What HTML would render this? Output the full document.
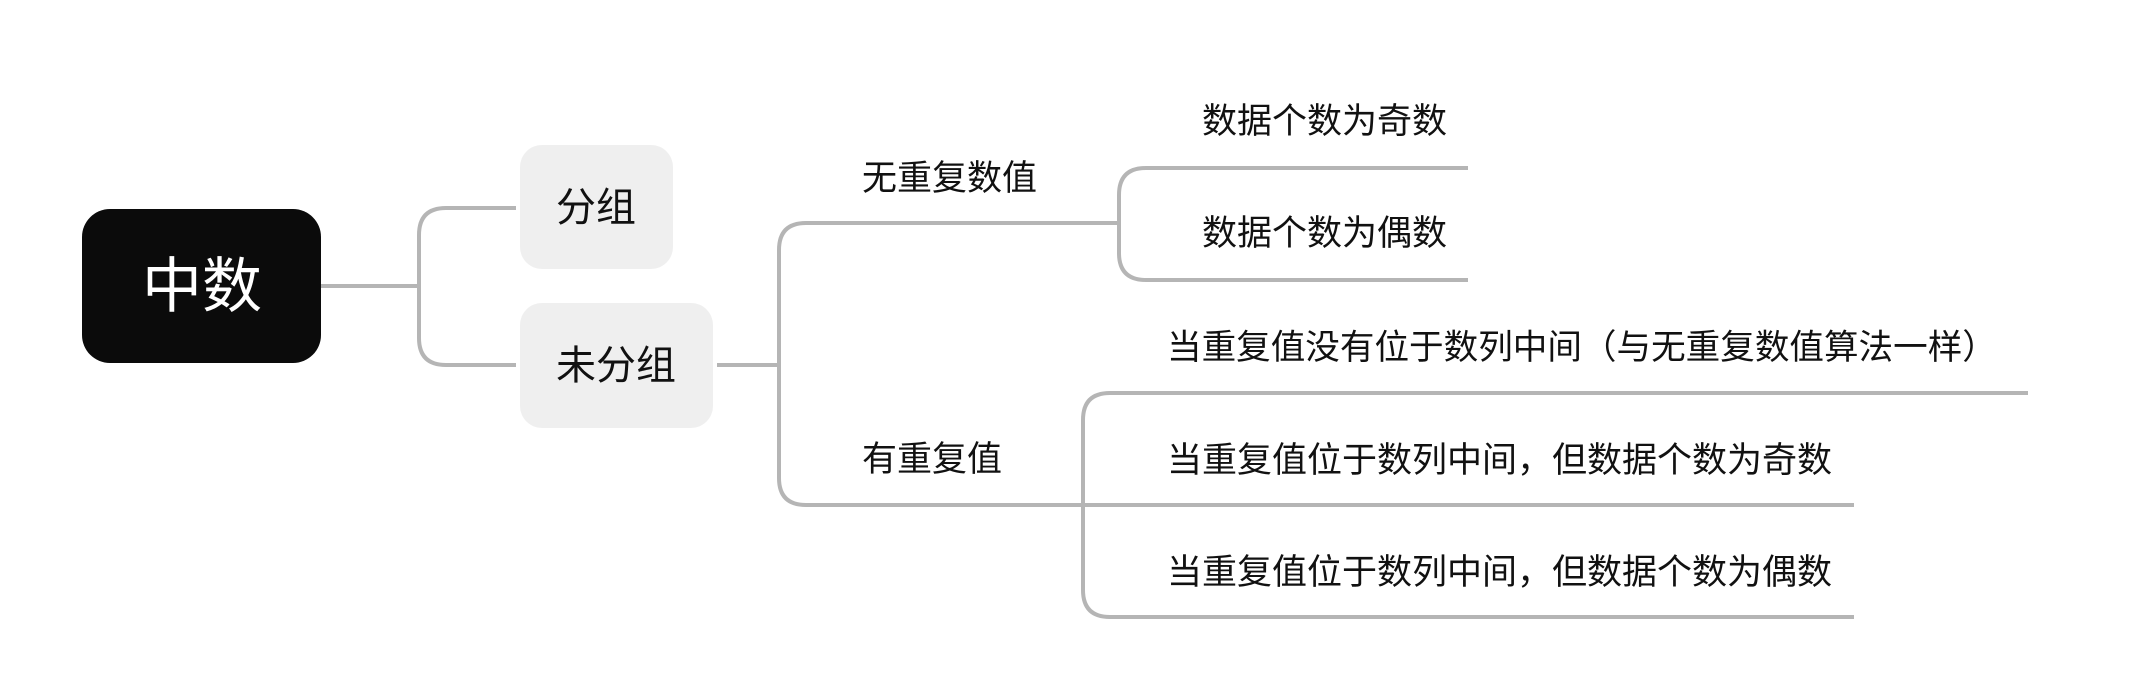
<!DOCTYPE html>
<html><head><meta charset="utf-8"><style>
html,body{margin:0;padding:0;background:#fff;}
svg{display:block;}
text{font-family:"Liberation Sans","Noto Sans CJK SC",sans-serif;}
</style></head><body>
<svg width="2142" height="683" viewBox="0 0 2142 683" xmlns="http://www.w3.org/2000/svg">
<g fill="none" stroke="#b5b5b5" stroke-width="4">
<path d="M321 286 H419"/>
<path d="M516 208 H446 Q419 208 419 235 V338 Q419 365 446 365 H516"/>
<path d="M717 365 H779"/>
<path d="M1117 223 H806 Q779 223 779 250 V478 Q779 505 806 505 H1854"/>
<path d="M1030 223 H1119"/>
<path d="M1468 168 H1146 Q1119 168 1119 195 V253 Q1119 280 1146 280 H1468"/>
<path d="M2028 393 H1110 Q1083 393 1083 420 V590 Q1083 617 1110 617 H1854"/>
</g>
<rect x="82" y="209" width="239" height="154" rx="28" fill="#0b0b0b"/>
<text x="202" y="307" font-size="60" fill="#fff" text-anchor="middle">中数</text>
<rect x="520" y="145" width="153" height="124" rx="22" fill="#efefef"/>
<text x="596" y="221" font-size="40" fill="#111" text-anchor="middle">分组</text>
<rect x="520" y="303" width="193" height="125" rx="22" fill="#efefef"/>
<text x="616" y="379" font-size="40" fill="#111" text-anchor="middle">未分组</text>
<g fill="#111">
<text x="862" y="190" font-size="35">无重复数值</text>
<text x="862" y="471" font-size="35">有重复值</text>
<text x="1202" y="133" font-size="35">数据个数为奇数</text>
<text x="1202" y="245" font-size="35">数据个数为偶数</text>
<text x="1167" y="359" font-size="34.6">当重复值没有位于数列中间（与无重复数值算法一样）</text>
<text x="1167" y="472" font-size="35">当重复值位于数列中间，但数据个数为奇数</text>
<text x="1167" y="584" font-size="35">当重复值位于数列中间，但数据个数为偶数</text>
</g>
</svg>
</body></html>
